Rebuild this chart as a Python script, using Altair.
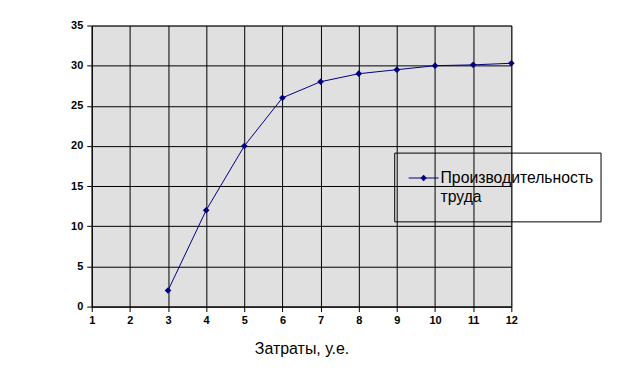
import altair as alt
import pandas as pd

x_vals = [3, 4, 5, 6, 7, 8, 9, 10, 11, 12]
y_vals = [2, 12, 20, 26, 28, 29, 29.5, 30, 30.1, 30.3]
series_name = "Производительность труда"
x_title = "Затраты, у.е."
x_ticks = list(range(1, 13))
y_ticks = list(range(0, 36, 5))

df = pd.DataFrame({"x": x_vals, "y": y_vals})

W, H = 421, 282
NAVY = "#000080"

xs = alt.Scale(domain=[1, 12], nice=False, zero=False)
ys = alt.Scale(domain=[0, 35], nice=False)

xaxis = alt.Axis(values=x_ticks, tickCount=12, labelOverlap=False, labelFlush=False, grid=True,
                 gridColor="black", gridWidth=1, gridOpacity=1, domainColor="black",
                 tickColor="black", tickSize=5,
                 labelFontWeight="bold", labelFontSize=11, labelFont="Liberation Sans",
                 labelColor="black", labelPadding=3, title=x_title, titleFont="Liberation Sans",
                 titleFontSize=16, titleFontWeight="normal", titleColor="black", titlePadding=15)
yaxis = alt.Axis(values=y_ticks, tickCount=8, labelOverlap=False, labelFlush=False, grid=True,
                 gridColor="black", gridWidth=1, gridOpacity=1, domainColor="black",
                 tickColor="black", tickSize=5,
                 labelFontWeight="bold", labelFontSize=11, labelFont="Liberation Sans",
                 labelColor="black", labelPadding=4, title=None)

base = alt.Chart(df)
line = base.mark_line(color=NAVY, strokeWidth=1).encode(
    x=alt.X("x:Q", scale=xs, axis=xaxis), y=alt.Y("y:Q", scale=ys, axis=yaxis))
pts = base.mark_point(shape="diamond", filled=True, color=NAVY, size=45, opacity=1).encode(
    x=alt.X("x:Q", scale=xs), y=alt.Y("y:Q", scale=ys))

# legend (manual)
leg_df = pd.DataFrame({"name": [series_name]})
lb = alt.Chart(leg_df)
box = lb.mark_rect(fill=None, stroke="black", strokeWidth=1).encode(
    x=alt.value(304), x2=alt.value(511), y=alt.value(128), y2=alt.value(197))
sample = lb.mark_rule(color=NAVY, strokeWidth=1).encode(
    x=alt.value(318), x2=alt.value(348), y=alt.value(153))
sample_pt = lb.mark_point(shape="diamond", filled=True, color=NAVY, size=40, opacity=1).encode(
    x=alt.value(333), y=alt.value(153))
label = lb.mark_text(align="left", baseline="middle", fontSize=15.8, font="Liberation Sans",
                     color="black", lineBreak=" ", lineHeight=19).encode(
    x=alt.value(350), y=alt.value(153), text="name:N")

chart = alt.layer(line, pts, box, sample, sample_pt, label).properties(
    width=W, height=H,
    padding={"left": 84, "top": 17, "right": 100, "bottom": 50},
    autosize=alt.AutoSizeParams(type="none"),
    background="white",
).configure_view(fill="#e0e0e0", stroke="#808080", strokeWidth=1)

chart.save("out.html", embed_options={"renderer": "svg", "actions": False})
